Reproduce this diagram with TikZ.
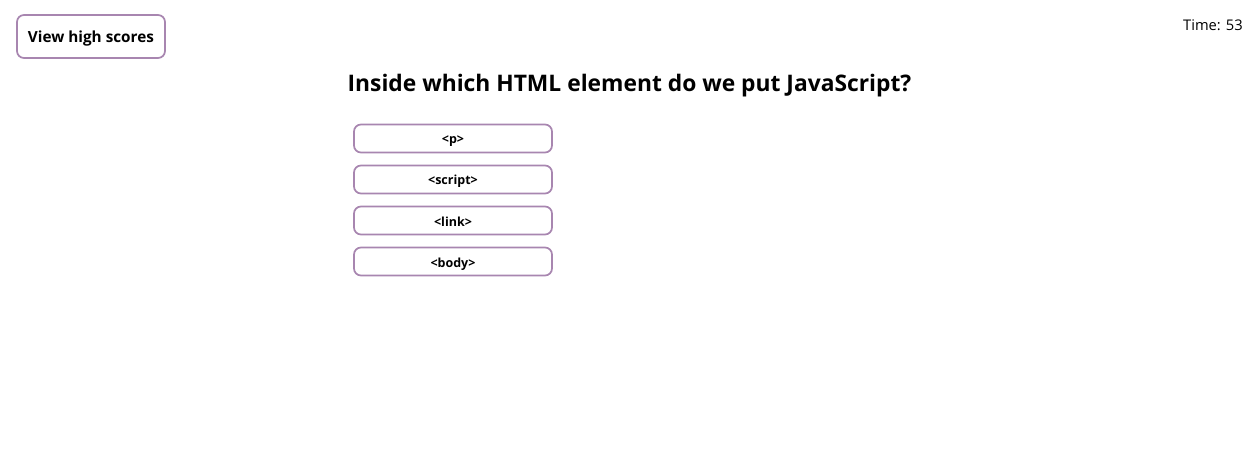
\documentclass[tikz,border=0pt]{standalone}
\usepackage{fontspec}
\setmainfont{Open Sans}
\definecolor{btnborder}{HTML}{A886B0}
\begin{document}
\begin{tikzpicture}[x=1pt,y=-1pt,
  btn/.style={draw=btnborder,line width=1.7pt,rounded corners=7pt,fill=white,inner sep=0pt},
  ans/.style={btn,minimum width=198pt,minimum height=28pt,text height=11pt,text depth=0pt,font=\fontsize{12.5}{14}\selectfont\bfseries},
  plain/.style={inner sep=0pt},
]
\useasboundingbox (0,0) rectangle (1258,465);
\node[btn,minimum width=148pt,minimum height=43pt,text height=13pt,text depth=0pt,font=\fontsize{15.3}{18}\selectfont\bfseries] (hs) at (91,36.5) {View high scores};
\node[plain,anchor=base east,font=\fontsize{14.7}{17}\selectfont] (time) at (1243,31) {Time: 53};
\node[plain,anchor=base,font=\fontsize{22.8}{27}\selectfont\bfseries] (q) at (629.5,91.7) {Inside which HTML element do we put JavaScript?};
\node[ans] (a1) at (453,138.5) {<p>};
\node[ans] (a2) at (453,179.5) {<script>};
\node[ans] (a3) at (453,220.5) {<link>};
\node[ans] (a4) at (453,261.5) {<body>};
\end{tikzpicture}
\end{document}
